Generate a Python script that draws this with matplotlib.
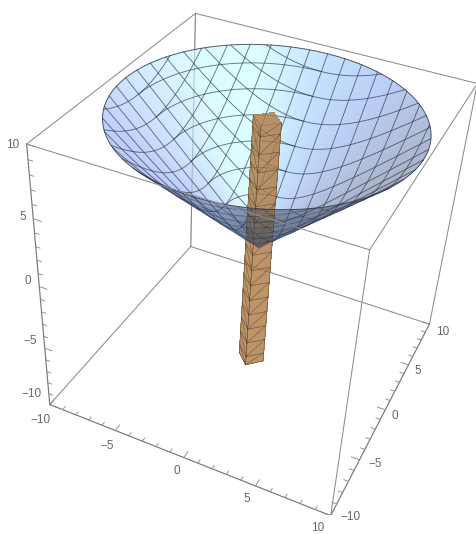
import numpy as np
import matplotlib
matplotlib.use("Agg")
import matplotlib.pyplot as plt
from mpl_toolkits.mplot3d.art3d import Poly3DCollection

W, H = 476, 534
# camera
elev, azim, roll, focal = 36.518, -67.585, -3.891, 0.3741
scale, ox, oy = 2815.93, 258.57, 247.77

# surface and column values
rim_r = 9.65
tip_r = 0.4
mesh_levels = np.arange(-8.75, 8.76, 1.25)
arc_levels = np.arange(1.25, 8.76, 1.25)
col_half = 0.92
col_z = [-9.5, 9.5]
col_levels = np.arange(-8.75, 8.76, 1.25)
ticks = np.arange(-10, 11)
labels = ["\u221210", "\u22125", "0", "5", "10"]
shade_ang = [-60, 0, 30, 60, 90, 120, 150, 180, 210, 240, 270, 300]
shade_rgb = np.array([[165, 175, 195], [168, 178, 200], [175, 190, 220], [185, 205, 245], [195, 225, 255],
                      [220, 255, 255], [218, 250, 255], [205, 228, 255], [192, 208, 252], [185, 200, 250],
                      [195, 215, 255], [165, 175, 195]])/255

fig = plt.figure(figsize=(W/100, H/100), dpi=100)
ax = fig.add_subplot(projection='3d')
ax.set_xlim(-10, 10); ax.set_ylim(-10, 10); ax.set_zlim(-10, 10)
ax.set_box_aspect((1, 1, 1))
ax.computed_zorder = False
ax.set_axis_off()
ax.view_init(elev, azim, roll)
ax.set_proj_type('persp', focal_length=focal)
vl = ax.viewLim
ax.set_position([(ox + scale*vl.x0)/W, (H - (oy - scale*vl.y0))/H,
                 scale*(vl.x1 - vl.x0)/W, scale*(vl.y1 - vl.y0)/H])

a_ = np.radians(azim); e_ = np.radians(elev)
def is_front(t):
    return np.cos(t - a_) > np.tan(e_)

# inner wall: opaque sectors coloured by direction
th = np.radians(np.arange(0, 360.01, 1.5))
back, bcol = [], []
for t0, t1 in zip(th[:-1], th[1:]):
    tm = (t0 + t1)/2
    deg = (np.degrees(tm) + 60) % 360 - 60
    shown = np.array([np.interp(deg, shade_ang, shade_rgb[:, i]) for i in range(3)])
    back.append([(tip_r*np.cos(t0), tip_r*np.sin(t0), tip_r), (rim_r*np.cos(t0), rim_r*np.sin(t0), rim_r),
                 (rim_r*np.cos(t1), rim_r*np.sin(t1), rim_r), (tip_r*np.cos(t1), tip_r*np.sin(t1), tip_r)])
    bcol.append(tuple(shown))
ax.add_collection3d(Poly3DCollection(back, facecolors=bcol, edgecolors=bcol, linewidths=0.3, zorder=2))
ax.plot([-10, -10], [10, 10], [-10, 10], color=(0.45, 0.45, 0.45), lw=0.75, alpha=0.35, zorder=2.5)

# outer wall in front: nested translucent fans, darkening toward the tip
tf = np.linspace(0, 2*np.pi, 721)
tf = tf[is_front(tf)]
tf = np.sort((tf - a_ + np.pi) % (2*np.pi) - np.pi) + a_
for k, rr in enumerate([rim_r, 8.0, 6.5, 5.0, 3.5, 2.0]):
    poly = [(0, 0, 0)] + [(rr*np.cos(t), rr*np.sin(t), rr) for t in tf]
    al = 0.38 if k == 0 else 0.09
    ax.add_collection3d(Poly3DCollection([poly], facecolors=[(0.22, 0.30, 0.42, al)], edgecolors='none', zorder=8))

LINE = (0.18, 0.20, 0.26)
def cone_line(x, y, z):
    t = np.arctan2(y, x)
    fm = is_front(t)
    x1, y1, z1 = [np.where(fm, np.nan, v) for v in (x, y, z)]
    x2, y2, z2 = [np.where(fm, v, np.nan) for v in (x, y, z)]
    ax.plot(x1, y1, z1, color=LINE, lw=0.65, alpha=0.68, zorder=3)
    ax.plot(x2, y2, z2, color=LINE, lw=0.55, alpha=0.5, zorder=9)
for c_ in mesh_levels:
    s = np.sqrt(rim_r**2 - c_**2)
    u = np.linspace(-s, s, 201)
    h = np.hypot(c_, u)
    cone_line(np.full_like(u, c_), u, h)
    cone_line(u, np.full_like(u, c_), h)
for c_ in arc_levels:
    q = np.radians(np.linspace(90, 180, 61))
    cone_line(c_*np.cos(q), c_*np.sin(q), np.full_like(q, c_))
tt = np.linspace(0, 2*np.pi, 361)
ax.plot(rim_r*np.cos(tt), rim_r*np.sin(tt), np.full_like(tt, rim_r), color=LINE, lw=0.7, alpha=0.8, zorder=9)

# column
cv = [(-col_half, 0), (0, -col_half), (col_half, 0), (0, col_half)]
BROWN = (0.68, 0.47, 0.26, 0.80)
faces = []
for i in range(2):
    (x0, y0), (x1, y1) = cv[i], cv[i+1]
    faces.append([(x0, y0, col_z[0]), (x1, y1, col_z[0]), (x1, y1, col_z[1]), (x0, y0, col_z[1])])
faces.append([(x, y, col_z[1]) for x, y in cv])
ax.add_collection3d(Poly3DCollection(faces, facecolors=[BROWN]*3, edgecolors='none', antialiased=False, zorder=5))
CL = (0.22, 0.18, 0.16)
zs_all = np.r_[col_z[0], col_levels, col_z[1]]
for zv in zs_all[:-1]:
    ax.plot([v[0] for v in cv[:3]], [v[1] for v in cv[:3]], [zv]*3, color=CL, lw=0.5, alpha=0.55, zorder=6)
for v in cv[:3]:
    ax.plot([v[0]]*2, [v[1]]*2, col_z, color=CL, lw=0.5, alpha=0.55, zorder=6)
for k in range(len(zs_all) - 1):
    for i in range(2):
        (x0, y0), (x1, y1) = cv[i], cv[i+1]
        zz = [zs_all[k+1], zs_all[k]] if i == 0 else [zs_all[k], zs_all[k+1]]
        ax.plot([x0, x1], [y0, y1], zz, color=CL, lw=0.45, alpha=0.5, zorder=6)

# box
BOX = (0.55, 0.55, 0.55)
back_edges = [((-10, 10, -10), (-10, 10, 10)), ((-10, 10, -10), (-10, -10, -10)), ((-10, 10, -10), (10, 10, -10)),
              ((-10, 10, 10), (-10, -10, 10)), ((-10, 10, 10), (10, 10, 10))]
front_edges = [((10, -10, -10), (10, -10, 10)), ((10, 10, -10), (10, 10, 10)),
               ((-10, -10, 10), (10, -10, 10)), ((10, -10, 10), (10, 10, 10))]
axis_edges = [((-10, -10, -10), (-10, -10, 10)), ((-10, -10, -10), (10, -10, -10)), ((10, -10, -10), (10, 10, -10))]
for a0, b0 in back_edges:
    ax.plot(*zip(a0, b0), color=BOX, lw=0.75, zorder=1)
for a0, b0 in front_edges:
    ax.plot(*zip(a0, b0), color=BOX, lw=0.75, zorder=10)
for a0, b0 in axis_edges:
    ax.plot(*zip(a0, b0), color=(0.47, 0.47, 0.47), lw=0.85, zorder=10)

for v in ticks:
    L = 0.55 if v % 5 == 0 else 0.3
    ax.plot([v, v], [-10, -10 + L], [-10, -10], color=BOX, lw=0.65, zorder=10)
    ax.plot([10, 10 - L], [v, v], [-10, -10], color=BOX, lw=0.65, zorder=10)
    ax.plot([-10, -10 + L], [-10, -10], [v, v], color=BOX, lw=0.65, zorder=10)

xlab = [(40.7, 419.7), (107.3, 445.7), (177, 471), (246.7, 499), (318, 528)]
ylab = [(351, 517), (375, 464), (395, 416), (418, 371), (443, 332)]
zlab = [(32, 394), (30, 340.7), (28.3, 280.7), (22.7, 217), (13, 145)]
for pos in (xlab, ylab, zlab):
    for s, (a0, b0) in zip(labels, pos):
        fig.text(a0/W, 1 - b0/H, s, ha='center', va='center', fontsize=8.5,
                 family='Liberation Sans', color='#666666')

fig.savefig("out.png", dpi=100)
